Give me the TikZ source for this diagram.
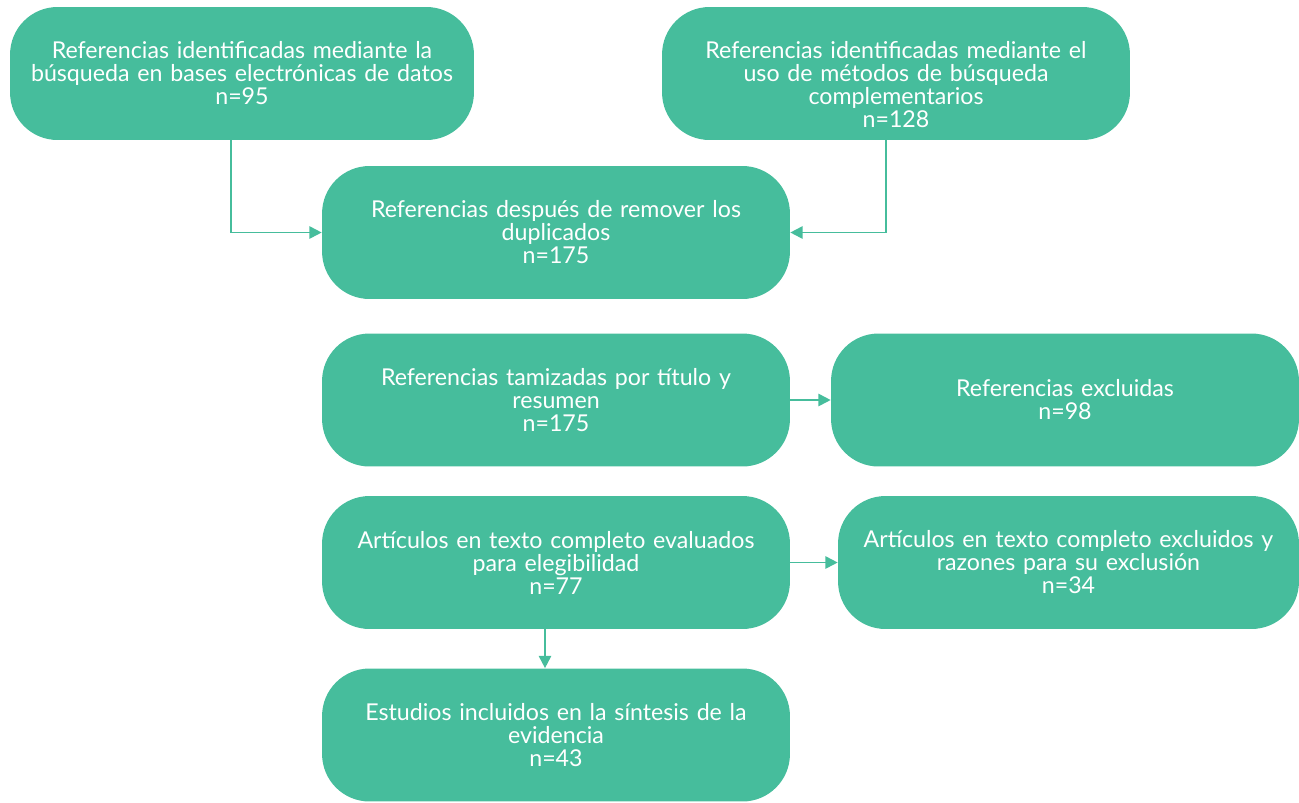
\documentclass[tikz,border=0pt]{standalone}
\usepackage{fontspec}
\setmainfont{Lato}
\usepackage{xcolor}
\usepackage{tikz}
\usetikzlibrary{arrows.meta}
\definecolor{boxgreen}{RGB}{70, 189, 156}

\begin{document}
\begin{tikzpicture}[x=0.02cm, y=-0.02cm,
  stage/.style={draw=none, fill=boxgreen, rounded corners=0.95cm, minimum height=2.66cm, text width=9cm, align=center, inner sep=0pt, text=white, font=\fontsize{13.2}{13.1}\selectfont},
  flow/.style={-{Triangle[length=7pt, width=7pt]}, line width=1pt, boxgreen}]
\useasboundingbox (0,0) rectangle (1299,802);
% Identification
\node[stage, minimum width=9.28cm] (dbase) at (242,73.5) {Referencias identificadas mediante la\\búsqueda en bases electrónicas de datos\\n=95};
\node[stage, minimum width=9.36cm] (other) at (896,73.5) {\rule{0pt}{0.8cm}Referencias identificadas mediante el\\uso de métodos de búsqueda\\complementarios\\n=128};
\node[stage, minimum width=9.36cm] (nodup) at (556,232.5) {Referencias después de remover los\\duplicados\\n=175};

% Screening
\node[stage, minimum width=9.36cm] (screen) at (556,400) {Referencias tamizadas por título y\\resumen\\n=175};
\node[stage, minimum width=9.36cm] (excl) at (1065,400) {Referencias excluidas\\n=98};
\node[stage, minimum width=9.36cm] (full) at (556,562.5) {Artículos en texto completo evaluados\\para elegibilidad\\n=77};
\node[stage, minimum width=9.22cm] (fullex) at (1068.5,562.5) {Artículos en texto completo excluidos y\\razones para su exclusión\\n=34};

% Included
\node[stage, minimum width=9.36cm] (incl) at (556,735) {Estudios incluidos en la síntesis de la\\evidencia\\n=43};

% Connecting arrows
\draw[flow] ([xshift=-0.22cm]dbase.south) |- (nodup.west);
\draw[flow] ([xshift=-0.2cm]other.south) |- (nodup.east);
\draw[flow] (screen.east) -- (excl.west);
\draw[flow] (full.east) -- (fullex.west);
\draw[flow] ([xshift=-0.22cm]full.south) -- ([xshift=-0.22cm]incl.north);
\end{tikzpicture}
\end{document}
